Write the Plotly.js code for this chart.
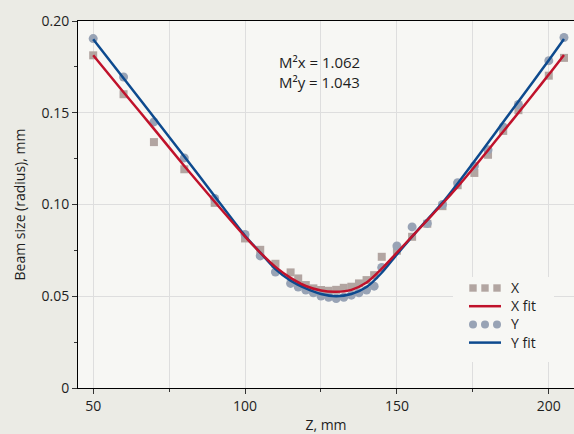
<!DOCTYPE html>
<html><head><meta charset="utf-8">
<script src="https://cdn.plot.ly/plotly-3.0.1.min.js"></script>
<style>html,body{margin:0;padding:0;background:#ebebe5;} #chart{width:574px;height:434px;}</style>
</head><body><div id="chart"></div>
<script>
// Measured points
const zMeas = [50,60,70,80,90,100,105,110,115,117.5,120,122.5,125,127.5,130,132.5,135,137.5,140,142.5,145,150,155,160,165,170,175.5,180,185,190,200,205];
const xMeas = [0.1813,0.1601,0.1340,0.1192,0.1009,0.0815,0.0753,0.0677,0.0630,0.0597,0.0561,0.0543,0.0534,0.0530,0.0535,0.0546,0.0552,0.0570,0.0588,0.0615,0.0715,0.0748,0.0824,0.0895,0.0991,0.1105,0.1172,0.1271,0.1401,0.1514,0.1702,0.1799];
const yMeas = [0.1904,0.1695,0.1450,0.1254,0.1033,0.0837,0.0720,0.0632,0.0570,0.0550,0.0534,0.0519,0.0501,0.0494,0.0488,0.0494,0.0506,0.0519,0.0534,0.0555,0.0657,0.0774,0.0878,0.0897,0.1000,0.1119,0.1210,0.1298,0.1423,0.1545,0.1784,0.1910];
// Fit curves
const zFit = [50,60,70,80,90,100,105,110,115,120,125,130,135,140,145,150,155,160,165,170,175,180,185,190,195,200,205];
const xFit = [0.1813,0.1612,0.1412,0.1210,0.1015,0.0825,0.0738,0.0660,0.0600,0.0556,0.0531,0.0524,0.0535,0.0575,0.0650,0.0738,0.0826,0.0915,0.1004,0.1097,0.1195,0.1296,0.1398,0.1500,0.1604,0.1708,0.1815];
const yFit = [0.1900,0.1688,0.1475,0.1262,0.1045,0.0830,0.0738,0.0648,0.0585,0.0543,0.0512,0.0500,0.0512,0.0550,0.0628,0.0728,0.0825,0.0918,0.1010,0.1115,0.1225,0.1337,0.1449,0.1561,0.1673,0.1786,0.1902];
// Labels
const seriesNames = ["X","X fit","Y","Y fit"];
const yTickVals = [0,0.05,0.10,0.15,0.20];
const yTickText = ["0","0.05","0.10","0.15","0.20"];
const xTickVals = [50,100,150,200];
const xTickText = ["50","100","150","200"];
const m2Text = ["M²x = 1.062","M²y = 1.043"];

const FONT = "Open Sans, Noto Sans, sans-serif";
const COL = {xPts:'#b2a5a1', yPts:'#98a3b5', xFit:'#c0122b', yFit:'#0d4a8e'};

// plot area in pixels (for legend/annotation placement)
const PL = 78, PR = 574, PT = 21, PB = 388;
const px = v => (v - PL) / (PR - PL);
const py = v => (PB - v) / (PB - PT);

const traces = [
  {x:zMeas, y:xMeas, mode:'markers', name:seriesNames[0], showlegend:false,
   marker:{symbol:'square', size:8, color:COL.xPts}},
  {x:zMeas, y:yMeas, mode:'markers', name:seriesNames[2], showlegend:false,
   marker:{symbol:'circle', size:9, color:COL.yPts}},
  {x:zFit, y:yFit, mode:'lines', name:seriesNames[3], showlegend:false,
   line:{color:COL.yFit, width:2.5, shape:'spline', smoothing:0.8}},
  {x:zFit, y:xFit, mode:'lines', name:seriesNames[1], showlegend:false,
   line:{color:COL.xFit, width:2.5, shape:'spline', smoothing:0.8}}
];

// Legend drawn as shapes + one multi-line annotation (three-symbol style of the original)
const legRows = [288, 306.2, 324.4, 342.6];
const legSymX = [473, 485, 497];
const shapes = [
  {type:'rect', xref:'paper', yref:'paper', layer:'above', x0:px(453), x1:px(554), y0:py(277), y1:py(362),
   fillcolor:'#f7f7f4', line:{width:0}}
];
legSymX.forEach(cx => {
  shapes.push({type:'rect', xref:'paper', yref:'paper', layer:'above',
    x0:px(cx-3.7), x1:px(cx+3.7), y0:py(legRows[0]+3.7), y1:py(legRows[0]-3.7),
    fillcolor:COL.xPts, line:{width:0}});
  shapes.push({type:'circle', xref:'paper', yref:'paper', layer:'above',
    x0:px(cx-4), x1:px(cx+4), y0:py(legRows[2]+4), y1:py(legRows[2]-4),
    fillcolor:COL.yPts, line:{width:0}});
});
shapes.push({type:'line', xref:'paper', yref:'paper', layer:'above',
  x0:px(469), x1:px(501), y0:py(legRows[1]), y1:py(legRows[1]), line:{color:COL.xFit, width:2.5}});
shapes.push({type:'line', xref:'paper', yref:'paper', layer:'above',
  x0:px(469), x1:px(501), y0:py(legRows[3]), y1:py(legRows[3]), line:{color:COL.yFit, width:2.5}});

const annotations = [
  {xref:'paper', yref:'paper', x:px(277), y:py(71.8), xanchor:'left', yanchor:'middle', align:'left',
   text:m2Text.join('<br>'), showarrow:false, font:{size:15}},
  {xref:'paper', yref:'paper', x:px(509), y:py((legRows[0]+legRows[3])/2), xanchor:'left', yanchor:'middle', align:'left',
   text:seriesNames.join('<br>'), showarrow:false, font:{size:14}}
];

const layout = {
  width:574, height:434,
  margin:{l:PL, r:0, t:PT, b:434-PB},
  paper_bgcolor:'#ebebe5', plot_bgcolor:'#f7f7f4',
  font:{family:FONT, size:14, color:'#1e1e1e'},
  showlegend:false,
  xaxis:{range:[45,208.3], tickvals:xTickVals, ticktext:xTickText,
         showline:true, linecolor:'#000', linewidth:1, mirror:true,
         ticks:'outside', ticklen:5, tickcolor:'#333',
         showgrid:true, gridcolor:'#dedede', gridwidth:1, zeroline:false,
         minor:{dtick:25, tick0:0, showgrid:true, gridcolor:'#dedede', ticks:'outside', ticklen:3, tickcolor:'#333'},
         title:{text:'Z, mm', font:{size:14}, standoff:15}},
  yaxis:{range:[0,0.2], tickvals:yTickVals, ticktext:yTickText,
         showline:true, linecolor:'#000', linewidth:1,
         ticks:'outside', ticklen:5, tickcolor:'#333',
         showgrid:true, gridcolor:'#dedede', gridwidth:1, zeroline:false,
         minor:{dtick:0.025, tick0:0, showgrid:false, ticks:'outside', ticklen:3, tickcolor:'#333'},
         title:{text:'Beam size (radius), mm', font:{size:14}, standoff:12}},
  shapes:shapes,
  annotations:annotations
};
Plotly.newPlot('chart', traces, layout, {staticPlot:true, displayModeBar:false});
</script>
</body></html>
